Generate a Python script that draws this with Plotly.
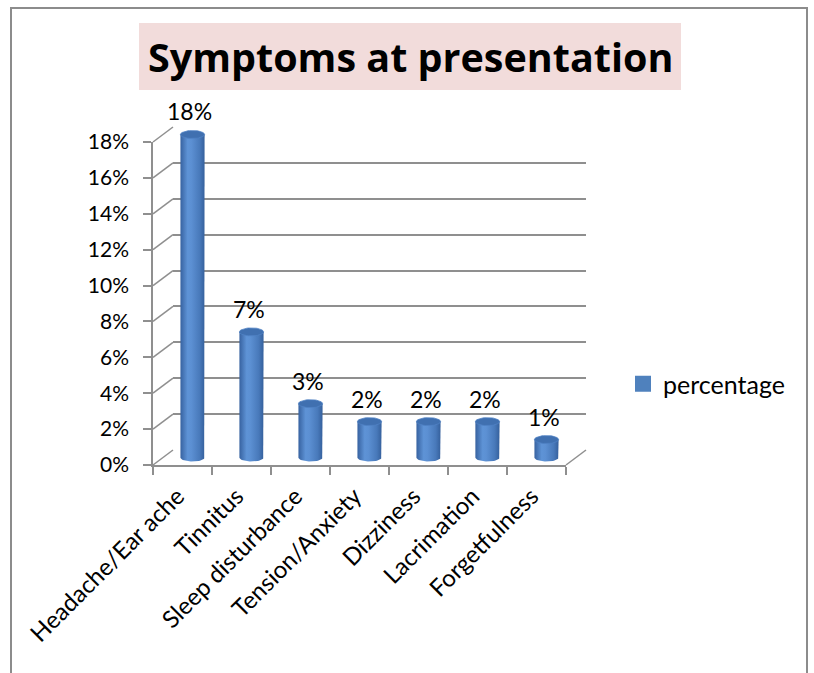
import plotly.graph_objects as go
import numpy as np

# ---------------- data ----------------
categories = ["Headache/Ear ache", "Tinnitus", "Sleep disturbance", "Tension/Anxiety",
              "Dizziness", "Lacrimation", "Forgetfulness"]
values = [0.18, 0.07, 0.03, 0.02, 0.02, 0.02, 0.01]
value_labels = ["18%", "7%", "3%", "2%", "2%", "2%", "1%"]
y_ticks = [0, 0.02, 0.04, 0.06, 0.08, 0.10, 0.12, 0.14, 0.16, 0.18]
series_name = "percentage"
title_text = "Symptoms at presentation"

# ---------------- geometry (pixels) ----------------
W, H = 814, 673
FX0, FX1 = 153, 566      # front x extent
FY0, FY1 = 465, 142      # front y pixel for 0 and YMAX
DX, DY = 20, 15          # depth offset of back wall
YMAX = 0.18
S = (FY0 - FY1) / YMAX   # px per data unit (y)

def px(x):
    return x / W

def py(y):
    return 1 - y / H

def ydom(offset, rmin, rmax):
    base = FY0 - offset
    return [py(base - rmin * S), py(base - rmax * S)]

FONT = "Lato"
NUM_FS = 21
LAB_FS = 23
CAT_FS = 24
LEG_FS = 25
LINE = "#8F8F8F"
BLUE = "#4F81BD"

eps = 0.0004
y2min, y2max = -eps, YMAX + eps
y3min, y3max = -0.01, 0.19

fig = go.Figure()

# invisible trace to populate front category axis
fig.add_trace(go.Scatter(x=categories, y=values, mode="markers",
                         marker=dict(opacity=0), hoverinfo="skip",
                         showlegend=False, xaxis="x", yaxis="y"))
# back wall axis needs a trace
fig.add_trace(go.Scatter(x=[0], y=[0], mode="markers", marker=dict(opacity=0),
                         hoverinfo="skip", showlegend=False, xaxis="x2", yaxis="y2"))

# cylinders
w = 0.205
b = 4.0 / S
t = np.linspace(0, np.pi, 25)
tt = np.linspace(0, 2 * np.pi, 49)
for i, v in enumerate(values):
    xs = [i - w, i - w, i + w, i + w] + list(i + w * np.cos(t))
    ys = [0, v, v, 0] + list(-b * np.sin(t))
    fig.add_trace(go.Scatter(
        x=xs, y=ys, mode="lines", fill="toself", line=dict(width=0, color=BLUE),
        fillgradient=dict(type="horizontal",
                          colorscale=[[0, "#3762a0"], [0.3, "#5e93d6"], [0.45, "#5c90d3"],
                                      [0.8, "#4879ba"], [1, "#35609c"]]),
        hoverinfo="skip", showlegend=False, xaxis="x3", yaxis="y3"))
    fig.add_trace(go.Scatter(
        x=list(i + w * np.cos(tt)), y=list(v + b * np.sin(tt)), mode="lines",
        fill="toself", line=dict(width=0.8, color="#4f82c4"),
        fillcolor="#4070b0", hoverinfo="skip", showlegend=False,
        xaxis="x3", yaxis="y3"))

# legend entry
fig.add_trace(go.Scatter(x=[None], y=[None], name=series_name, mode="markers",
                         marker=dict(symbol="square", size=16, color=BLUE),
                         showlegend=True, xaxis="x3", yaxis="y3"))

# data labels
annotations = []
for i, (v, lab) in enumerate(zip(values, value_labels)):
    annotations.append(dict(x=i, y=v, xref="x3", yref="y3", text=lab, showarrow=False,
                            yanchor="bottom", yshift=7, xshift=-3,
                            font=dict(family=FONT, size=LAB_FS, color="#000")))
# title
annotations.append(dict(x=px(410), y=py(57), xref="paper", yref="paper",
                        text="<b>" + title_text + "</b>", showarrow=False,
                        xanchor="center", yanchor="middle",
                        font=dict(family="Open Sans", size=39.5, color="#000")))

shapes = []
# outer border
shapes.append(dict(type="rect", xref="paper", yref="paper", x0=px(11), x1=px(807),
                   y0=-0.05, y1=py(8), line=dict(color="#8C8C8C", width=2), layer="below"))
# title box
shapes.append(dict(type="rect", xref="paper", yref="paper", x0=px(139), x1=px(681),
                   y0=py(90), y1=py(23), fillcolor="#F2DCDB", line=dict(width=0),
                   layer="below"))
# side wall diagonals
for v in y_ticks:
    yf = FY0 - v * S
    shapes.append(dict(type="line", xref="paper", yref="paper",
                       x0=px(FX0), y0=py(yf), x1=px(FX0 + DX), y1=py(yf - DY),
                       line=dict(color=LINE, width=1.5), layer="below"))
# floor right diagonal
shapes.append(dict(type="line", xref="paper", yref="paper",
                   x0=px(FX1), y0=py(FY0), x1=px(FX1 + DX), y1=py(FY0 - DY),
                   line=dict(color=LINE, width=1.5), layer="below"))

fig.update_layout(
    width=W, height=H, margin=dict(l=0, r=0, t=0, b=0, autoexpand=False),
    paper_bgcolor="white", plot_bgcolor="rgba(0,0,0,0)",
    font=dict(family=FONT, size=NUM_FS, color="#000"),
    showlegend=True,
    legend=dict(x=px(623), y=py(384), xanchor="left", yanchor="middle",
                font=dict(family=FONT, size=LEG_FS, color="#000"),
                bgcolor="rgba(0,0,0,0)", itemwidth=30, itemsizing="trace"),
    xaxis=dict(domain=[px(FX0), px(FX1)], type="category", categoryorder="array",
               categoryarray=categories, range=[-0.5, 6.5], tickson="boundaries",
               ticks="outside", ticklen=8, tickcolor=LINE, tickwidth=1.5,
               showline=True, linecolor=LINE, linewidth=1.5, showgrid=False,
               tickangle=-45, tickfont=dict(family=FONT, size=CAT_FS, color="#000"),
               ticklabelstandoff=6, ticklabelshift=-5,
               anchor="y", fixedrange=True, automargin=False),
    yaxis=dict(domain=ydom(0, 0, YMAX), range=[0, YMAX], tickvals=y_ticks,
               tickformat=".0%", ticks="outside", ticklen=8, tickcolor=LINE, tickwidth=1.5,
               showline=True, linecolor=LINE, linewidth=1.5, showgrid=False, zeroline=False,
               ticklabelstandoff=10, tickfont=dict(family=FONT, size=NUM_FS, color="#000"),
               anchor="x", fixedrange=True, automargin=False),
    xaxis2=dict(domain=[px(FX0 + DX), px(FX1 + DX)], range=[-0.5, 6.5], visible=False,
                anchor="y2", automargin=False, fixedrange=True),
    yaxis2=dict(domain=ydom(DY, y2min, y2max), range=[y2min, y2max], tickvals=y_ticks,
                showgrid=True, gridcolor=LINE, gridwidth=1.5, showticklabels=False,
                ticks="", showline=False, zeroline=False, anchor="x2", automargin=False,
                fixedrange=True),
    xaxis3=dict(domain=[px(FX0 + DX / 2), px(FX1 + DX / 2)], range=[-0.5, 6.5],
                visible=False, anchor="y3", automargin=False, fixedrange=True),
    yaxis3=dict(domain=ydom(DY / 2, y3min, y3max), range=[y3min, y3max], visible=False,
                anchor="x3", automargin=False, fixedrange=True),
    annotations=annotations, shapes=shapes,
)

fig.write_html("out.html")
